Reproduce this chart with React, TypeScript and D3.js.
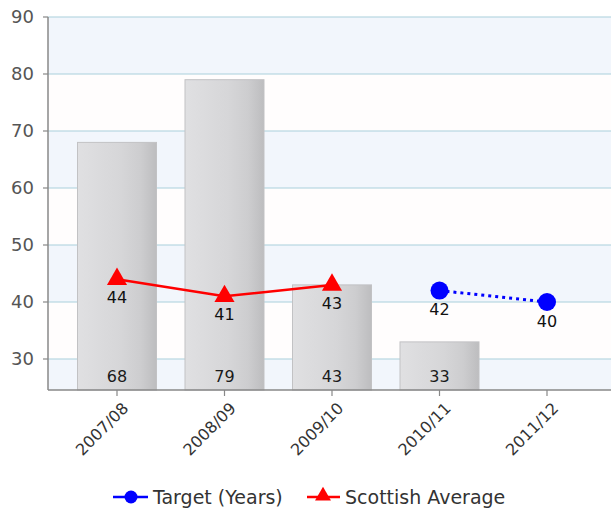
import React from 'react';
import * as d3 from 'd3';

const categories = ['2007/08', '2008/09', '2009/10', '2010/11', '2011/12'];
const barValues: (number | null)[] = [68, 79, 43, 33, null];
const scottishAverage: (number | null)[] = [44, 41, 43, null, null];
const target: (number | null)[] = [null, null, null, 42, 40];
const yTicks = [30, 40, 50, 60, 70, 80, 90];
const yDomain = [24.56, 90];
const legendLabels = ['Target (Years)', 'Scottish Average'];

const W = 611;
const H = 516;
const left = 48;
const right = 611;
const top = 17;
const bottom = 390;
const FONT = '"DejaVu Sans", Verdana, sans-serif';

export default function App() {
  const x = d3.scalePoint<string>().domain(categories).range([117, 547]);
  const y = d3.scaleLinear().domain(yDomain).range([bottom, top]);
  const barW = x.step() * 0.735;

  const bands: { y0: number; y1: number; fill: string }[] = [];
  const edges = [...yTicks].reverse().concat([yDomain[0]]);
  for (let i = 0; i < edges.length - 1; i++) {
    bands.push({ y0: y(edges[i]), y1: y(edges[i + 1]), fill: i % 2 === 0 ? '#f2f6fc' : '#fffdfd' });
  }

  const lineGen = d3
    .line<[string, number | null]>()
    .defined((d) => d[1] != null)
    .x((d) => x(d[0]) as number)
    .y((d) => y(d[1] as number));

  const scotPts = categories.map((c, i) => [c, scottishAverage[i]] as [string, number | null]);
  const targPts = categories.map((c, i) => [c, target[i]] as [string, number | null]);
  const tri = d3.symbol().type(d3.symbolTriangle).size(175)() as string;
  const triSmall = d3.symbol().type(d3.symbolTriangle).size(110)() as string;

  return (
    <svg
      width={W}
      height={H}
      style={{ position: 'absolute', left: 0, top: 0, background: '#fff' }}
      fontFamily={FONT}
    >
      <defs>
        <linearGradient id="barGrad" x1="0" x2="1" y1="0" y2="0">
          <stop offset="0%" stopColor="#e0e0e2" />
          <stop offset="55%" stopColor="#d6d6d8" />
          <stop offset="80%" stopColor="#cdcdcf" />
          <stop offset="100%" stopColor="#bdbdbf" />
        </linearGradient>
      </defs>
      {bands.map((b, i) => (
        <rect key={i} x={left} y={b.y0} width={right - left} height={b.y1 - b.y0} fill={b.fill} />
      ))}
      {yTicks.map((t) => (
        <g key={t}>
          <line x1={left} x2={right} y1={y(t)} y2={y(t)} stroke="#a9cfdb" strokeWidth={1.2} />
          <line x1={left - 5} x2={left} y1={y(t)} y2={y(t)} stroke="#888" strokeWidth={1.2} />
          <text x={34} y={y(t)} dy="0.36em" textAnchor="end" fontSize={18} fill="#555">
            {t}
          </text>
        </g>
      ))}
      {categories.map((c, i) =>
        barValues[i] == null ? null : (
          <rect
            key={c}
            x={(x(c) as number) - barW / 2}
            y={y(barValues[i] as number)}
            width={barW}
            height={bottom - y(barValues[i] as number)}
            fill="url(#barGrad)"
            stroke="#c2c2c4"
            strokeWidth={1}
          />
        )
      )}
      {categories.map((c, i) =>
        barValues[i] == null ? null : (
          <text key={c} x={x(c) as number} y={bottom - 14} dy="0.36em" textAnchor="middle" fontSize={16} fill="#1a1a1a">
            {barValues[i]}
          </text>
        )
      )}
      <line x1={left} x2={left} y1={top} y2={bottom} stroke="#888" strokeWidth={1.5} />
      <line x1={left} x2={right} y1={bottom} y2={bottom} stroke="#888" strokeWidth={1.5} />
      {categories.map((c) => (
        <g key={c}>
          <line x1={x(c) as number} x2={x(c) as number} y1={bottom} y2={bottom + 6} stroke="#888" strokeWidth={1.2} />
          <text
            transform={`translate(${(x(c) as number) + 9},${bottom + 16}) rotate(-45)`}
            textAnchor="end"
            dy="0.3em"
            fontSize={16}
            fill="#333"
          >
            {c}
          </text>
        </g>
      ))}
      <path d={lineGen(scotPts) as string} fill="none" stroke="#ff0000" strokeWidth={2.5} />
      <path d={lineGen(targPts) as string} fill="none" stroke="#0000ff" strokeWidth={3} strokeDasharray="3,4" />
      {scotPts.map(([c, v]) =>
        v == null ? null : (
          <g key={c}>
            <path d={tri} transform={`translate(${x(c)},${y(v)})`} fill="#ff0000" />
            <text x={x(c) as number} y={y(v) + 18} dy="0.36em" textAnchor="middle" fontSize={16} fill="#111">
              {v}
            </text>
          </g>
        )
      )}
      {targPts.map(([c, v]) =>
        v == null ? null : (
          <g key={c}>
            <circle cx={x(c) as number} cy={y(v)} r={9} fill="#0000ff" />
            <text x={x(c) as number} y={y(v) + 19} dy="0.36em" textAnchor="middle" fontSize={16} fill="#111">
              {v}
            </text>
          </g>
        )
      )}
      <g>
        <line x1={113} x2={148} y1={497} y2={497} stroke="#0000ff" strokeWidth={2.5} />
        <circle cx={131} cy={497} r={6.5} fill="#0000ff" />
        <text x={153} y={497} dy="0.36em" fontSize={19} fill="#333">
          {legendLabels[0]}
        </text>
        <line x1={307} x2={340} y1={497} y2={497} stroke="#ff0000" strokeWidth={2.5} />
        <path d={triSmall} transform="translate(323,496)" fill="#ff0000" />
        <text x={345} y={497} dy="0.36em" fontSize={19} fill="#333">
          {legendLabels[1]}
        </text>
      </g>
    </svg>
  );
}
